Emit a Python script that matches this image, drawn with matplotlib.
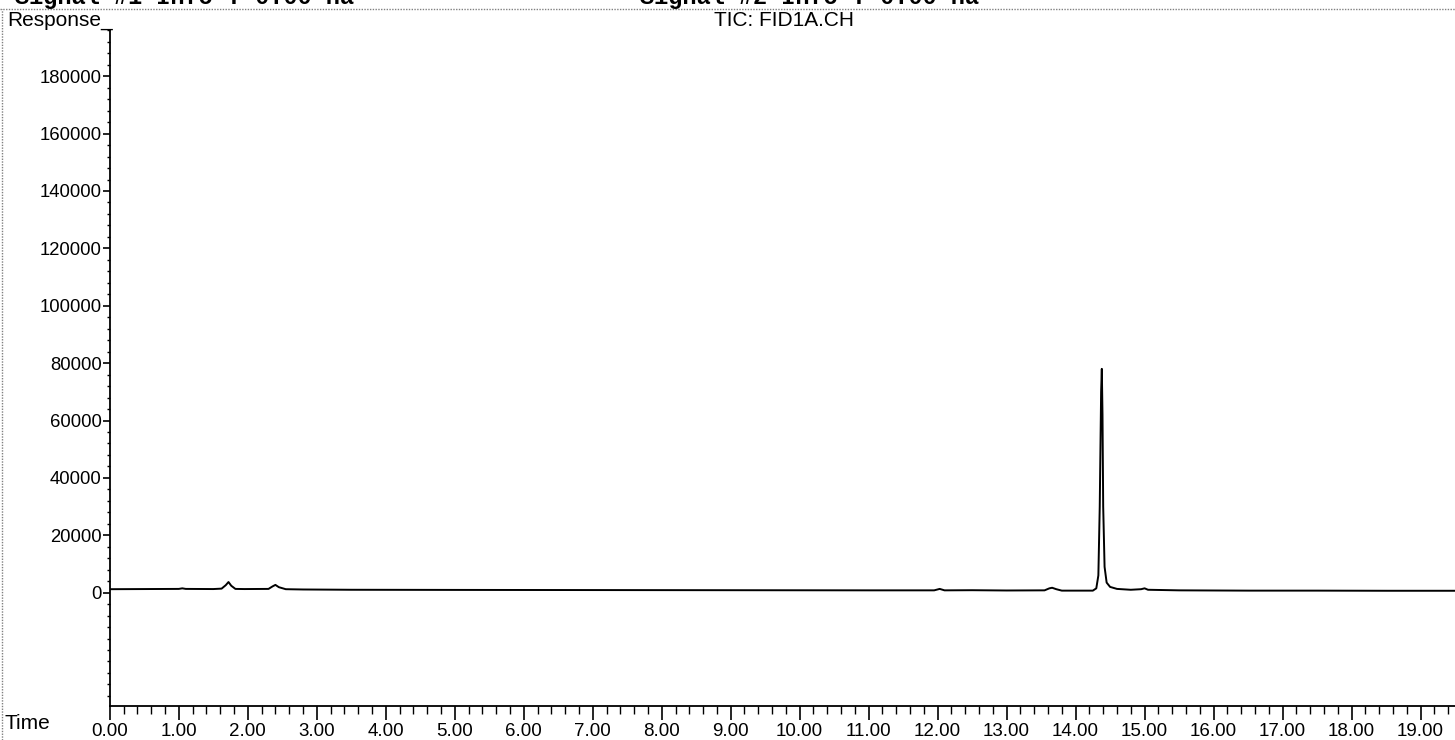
import matplotlib
matplotlib.use("Agg")
import matplotlib.pyplot as plt
from matplotlib.lines import Line2D
from matplotlib.ticker import MultipleLocator, FixedLocator

# trace vertices (time in min, response)
TIME = [0.00, 0.50, 1.00, 1.05, 1.10, 1.50, 1.62, 1.68, 1.72, 1.76, 1.82, 1.95,
        2.30, 2.36, 2.40, 2.45, 2.55, 2.80, 3.50, 5.00, 7.00, 9.00, 11.00,
        11.95, 12.03, 12.10, 12.50, 13.00, 13.55, 13.62, 13.66, 13.72, 13.80,
        14.25, 14.30, 14.33, 14.35, 14.37, 14.38, 14.39, 14.40, 14.42, 14.45,
        14.50, 14.60, 14.80, 14.95, 15.00, 15.05, 15.50, 16.50, 17.50, 18.50, 19.50]
RESP = [1200, 1250, 1300, 1500, 1300, 1250, 1400, 2600, 3700, 2400, 1300, 1250,
        1300, 2200, 2700, 1900, 1200, 1100, 1000, 950, 900, 850, 800,
        800, 1300, 800, 850, 750, 800, 1500, 1700, 1200, 700,
        700, 1500, 6000, 30000, 70000, 78000, 62000, 30000, 9000, 3500,
        2000, 1300, 1000, 1200, 1500, 1000, 800, 700, 700, 650, 650]

Y_TICKS = [0, 20000, 40000, 60000, 80000, 100000, 120000, 140000, 160000, 180000]
X_TICKS = [0, 1, 2, 3, 4, 5, 6, 7, 8, 9, 10, 11, 12, 13, 14, 15, 16, 17, 18, 19]
HEADER = ["Signal #1 Info : 0.00 na", "Signal #2 Info : 0.00 na"]

plt.rcParams["font.family"] = ["Liberation Sans", "DejaVu Sans"]

fig = plt.figure(figsize=(14.55, 7.4), dpi=100)
ax = fig.add_axes([0.0755, 0.046, 0.9245, 0.913])

ax.plot(TIME, RESP, color="black", lw=1.4)

ax.set_xlim(0, 19.5)
ax.set_ylim(-39500, 196000)
for s in ("top", "right"):
    ax.spines[s].set_visible(False)
ax.spines["left"].set_linewidth(1.3)
ax.spines["bottom"].set_linewidth(1.3)

ax.xaxis.set_major_locator(FixedLocator(X_TICKS))
ax.set_xticklabels([f"{t:.2f}" for t in X_TICKS], fontsize=13.5)
ax.xaxis.set_minor_locator(MultipleLocator(0.2))
ax.tick_params(axis="x", which="major", direction="out", length=10, width=1.2, pad=2)
ax.tick_params(axis="x", which="minor", direction="out", length=6, width=1.0)

ax.yaxis.set_major_locator(FixedLocator(Y_TICKS))
ax.set_yticklabels([str(t) for t in Y_TICKS], fontsize=13.3)
ax.yaxis.set_minor_locator(MultipleLocator(4000))
ax.tick_params(axis="y", which="major", direction="out", length=5, width=1.2, pad=1)
ax.tick_params(axis="y", which="minor", direction="out", length=2, width=1.0)

# header / labels
fig.text(0.005, 0.972, "Response_", fontsize=15, ha="left", va="center")
fig.text(0.539, 0.972, "TIC: FID1A.CH", fontsize=15, ha="center", va="center")
fig.text(0.003, 0.022, "Time", fontsize=15, ha="left", va="center")

# instrument header line, cut by the page top as in the scan
fig.text(0.010, 1.003, HEADER[0], fontsize=17, family="Liberation Mono",
         weight="bold", ha="left", va="center")
fig.text(0.440, 1.003, HEADER[1], fontsize=17, family="Liberation Mono",
         weight="bold", ha="left", va="center")

# dotted page border
fig.add_artist(Line2D([0, 1], [0.988, 0.988], transform=fig.transFigure,
                      color="gray", lw=1, ls=(0, (1, 1))))
fig.add_artist(Line2D([0.0015, 0.0015], [0, 0.988], transform=fig.transFigure,
                      color="gray", lw=1, ls=(0, (1, 1))))

fig.savefig("out.png", dpi=100)
